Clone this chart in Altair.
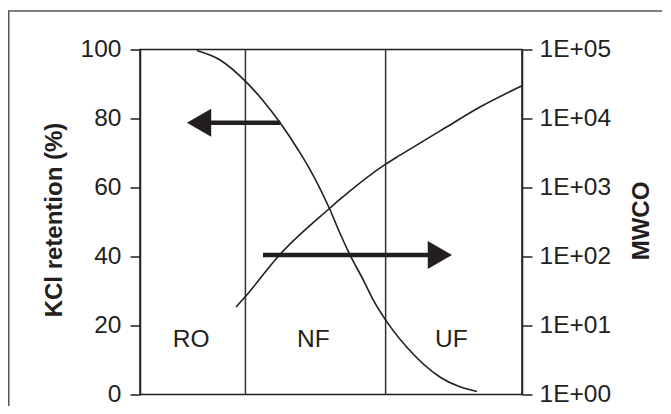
import altair as alt
import pandas as pd

FONT = "Liberation Sans, Arial, Helvetica, sans-serif"
INK = "#231f20"

# x = position along the separation spectrum (0-100, axis hidden)
ret_x = [14.85, 20.96, 27.5, 31.9, 36.68, 41.47, 44.1, 49.6, 52.4, 55.0, 58.5, 61.12, 64.37, 69.87, 78.6, 88.2]
ret_y = [99.7, 96.95, 90.9, 85.6, 78.75, 70.8, 66.0, 53.9, 46.6, 40.4, 33.1, 27.3, 21.5, 13.7, 5.0, 0.87]

mw_x = [25.15, 27.7, 36.5, 49.6, 52.4, 64.3, 68.1, 80.35, 89.1, 100.0]
mw_y = [18.5, 26.7, 105, 496, 676, 2178, 2943, 7585, 14800, 29850]

bound_x = [27.6, 64.3]

arrow_y = [78.75, 40.4]
arrow_from = [36.7, 32.2]
arrow_to = [18.5, 76.0]
head_x = [15.46, 78.5]
head_shape = ["triangle-left", "triangle-right"]

lab_text = ["RO", "NF", "UF"]
lab_x = [13.4, 45.4, 81.5]
lab_y = [15.8, 15.8, 15.8]

left_ticks = [0, 20, 40, 60, 80, 100]
right_ticks = [1, 10, 100, 1000, 10000, 100000]

xscale = alt.Scale(domain=[0, 100], nice=False, zero=False)

left_axis = alt.Axis(
    values=left_ticks, grid=False, tickSize=10, tickWidth=1.5, tickColor=INK,
    domainColor=INK, domainWidth=1.5, labelPadding=9, labelFontSize=24.5,
    labelFont=FONT, labelColor=INK, labelFlush=False,
    titleFont=FONT, titleFontSize=24, titleFontWeight="bold", titleColor=INK,
    titleAngle=270, titleAlign="center", titleBaseline="middle",
    titleX=-86, titleY=170,
)
yL = alt.Y("y:Q", scale=alt.Scale(domain=[0, 100], nice=False, zero=False),
           axis=left_axis, title="KCl retention (%)")

right_axis = alt.Axis(
    orient="right", values=right_ticks, grid=False, tickSize=10, tickWidth=1.5,
    tickColor=INK, domainColor=INK, domainWidth=1.5, labelPadding=7,
    labelFontSize=24.5, labelFont=FONT, labelColor=INK, labelFlush=False,
    labelOverlap=False,
    labelExpr="'1E+0' + round(log(datum.value) / LN10)",
    titleFont=FONT, titleFontSize=24, titleFontWeight="bold", titleColor=INK,
    titleAngle=270, titleAlign="center", titleBaseline="middle",
    titleX=119.5, titleY=171,
)
yR = alt.Y("m:Q", scale=alt.Scale(type="log", domain=[1, 100000], nice=False),
           axis=right_axis, title="MWCO")

ret_df = pd.DataFrame({"x": ret_x, "y": ret_y})
mw_df = pd.DataFrame({"x": mw_x, "m": mw_y})
bound_df = pd.DataFrame({"x": bound_x})
shaft_df = pd.DataFrame({"x0": arrow_from, "x1": arrow_to, "y": arrow_y})
head_df = pd.DataFrame({"x": head_x, "y": arrow_y, "s": head_shape})
lab_df = pd.DataFrame({"x": lab_x, "y": lab_y, "t": lab_text})

ret_line = alt.Chart(ret_df).mark_line(
    color=INK, strokeWidth=1.6, interpolate="monotone"
).encode(x=alt.X("x:Q", scale=xscale, axis=None), y=yL)

bounds = alt.Chart(bound_df).mark_rule(color="#333333", strokeWidth=1.5).encode(
    x=alt.X("x:Q", scale=xscale, axis=None)
)

shafts = alt.Chart(shaft_df).mark_rule(color=INK, strokeWidth=4.5, strokeCap="butt").encode(
    x=alt.X("x0:Q", scale=xscale, axis=None), x2="x1:Q", y=yL
)

heads = alt.Chart(head_df).mark_point(
    filled=True, color=INK, opacity=1, size=784, strokeWidth=0
).encode(
    x=alt.X("x:Q", scale=xscale, axis=None), y=yL,
    shape=alt.Shape("s:N", scale=None),
)

labels = alt.Chart(lab_df).mark_text(
    font=FONT, fontSize=24.5, color=INK, align="center", baseline="middle"
).encode(x=alt.X("x:Q", scale=xscale, axis=None), y=yL, text="t:N")

left_group = alt.layer(bounds, ret_line, shafts, heads, labels)

mw_line = alt.Chart(mw_df).mark_line(
    color=INK, strokeWidth=1.6, interpolate="monotone"
).encode(x=alt.X("x:Q", scale=xscale, axis=None), y=yR)

frame_df = pd.DataFrame({"k": [0]})
frame_left = alt.Chart(frame_df).mark_rule(color="#555555", strokeWidth=1.5).encode(
    x=alt.value(-131.25), y=alt.value(-38.5), y2=alt.value(400)
)
frame_top = alt.Chart(frame_df).mark_rule(color="#555555", strokeWidth=1.5).encode(
    x=alt.value(-132), x2=alt.value(560), y=alt.value(-38.5)
)

chart = alt.layer(left_group, mw_line, frame_left, frame_top).resolve_scale(
    y="independent"
).properties(
    width=382, height=345,
    autosize=alt.AutoSizeParams(type="none"),
    padding={"left": 132, "top": 41.5, "right": 140, "bottom": 11.5},
    background="white",
).configure_view(stroke=INK, strokeWidth=1.5)

chart.save("out.html", embed_options={"renderer": "svg", "actions": False})
